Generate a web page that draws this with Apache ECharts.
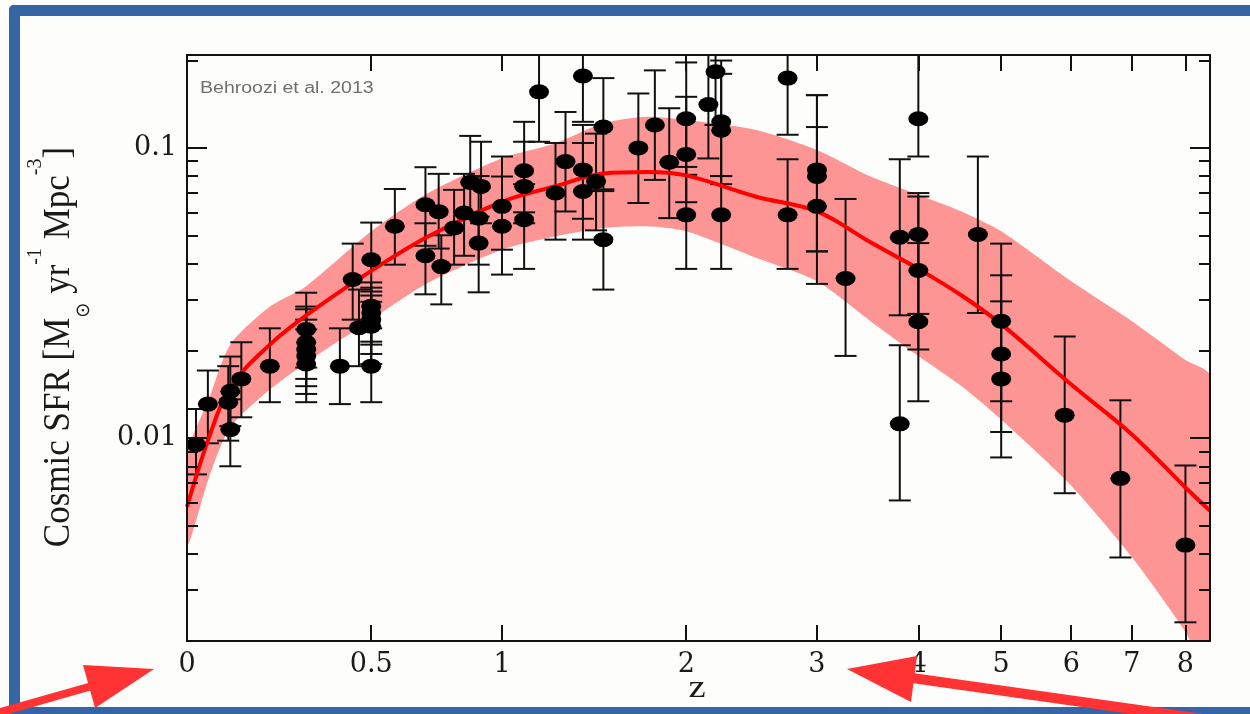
<!DOCTYPE html>
<html>
<head>
<meta charset="utf-8">
<script src="https://cdn.jsdelivr.net/npm/echarts@6/dist/echarts.min.js"></script>
<style>
  html, body { margin: 0; padding: 0; background: #ffffff; }
  #chart { width: 1250px; height: 714px; }
</style>
</head>
<body>
<div id="chart"></div>
<script>
// Cosmic star formation rate density measurements (redshift, value, upper and lower error ends)
const obsZ = [0.02, 0.047, 0.095, 0.1, 0.1, 0.127, 0.2, 0.3, 0.3, 0.3, 0.3, 0.3, 0.4, 0.44, 0.46,
  0.5, 0.5, 0.5, 0.5, 0.5, 0.5, 0.58, 0.69, 0.69, 0.74, 0.75, 0.8, 0.84, 0.865, 0.9, 0.9, 0.91,
  1.0, 1.0, 1.1, 1.1, 1.1, 1.17, 1.25, 1.3, 1.39, 1.39, 1.39, 1.46, 1.5, 1.5, 1.7, 1.8, 1.89,
  2.0, 2.0, 2.0, 2.15, 2.2, 2.24, 2.24, 2.24, 2.75, 2.75, 3.0, 3.0, 3.0, 3.26, 3.8, 3.8,
  4.0, 4.0, 4.0, 4.0, 4.7, 5.0, 5.0, 5.0, 5.9, 6.8, 8.0];
const obsSfr = [0.0095, 0.0131, 0.0133, 0.0145, 0.0107, 0.016, 0.0177, 0.0237, 0.0214, 0.0202, 0.0192, 0.018, 0.0177, 0.0352, 0.024,
  0.0412, 0.0285, 0.027, 0.0256, 0.0243, 0.0177, 0.0537, 0.0637, 0.0425, 0.0603, 0.039, 0.053, 0.0597, 0.076, 0.0573, 0.047, 0.0737,
  0.0629, 0.0537, 0.0834, 0.0737, 0.0566, 0.156, 0.0699, 0.0897, 0.177, 0.084, 0.0708, 0.0766, 0.118, 0.0483, 0.1, 0.12, 0.0893,
  0.126, 0.095, 0.0588, 0.141, 0.183, 0.123, 0.115, 0.0588, 0.174, 0.0588, 0.084, 0.0797, 0.0629, 0.0355, 0.0492, 0.0112,
  0.126, 0.0503, 0.0378, 0.0252, 0.0503, 0.0253, 0.0195, 0.016, 0.012, 0.00727, 0.00428];
const obsHi = [0.0126, 0.0171, 0.0177, 0.0191, 0.0136, 0.0214, 0.0239, 0.0317, 0.0284, 0.0278, 0.0256, 0.0237, 0.0239, 0.0468, 0.0325,
  0.0553, 0.0344, 0.033, 0.031, 0.0295, 0.0239, 0.0722, 0.0858, 0.055, 0.0814, 0.05, 0.0717, 0.0814, 0.11, 0.08, 0.058, 0.105,
  0.0934, 0.0797, 0.123, 0.105, 0.075, 0.25, 0.104, 0.133, 0.25, 0.12, 0.104, 0.112, 0.174, 0.072, 0.154, 0.185, 0.137,
  0.197, 0.15, 0.086, 0.25, 0.25, 0.2, 0.18, 0.08, 0.25, 0.0914, 0.152, 0.152, 0.118, 0.0667, 0.0914, 0.0209,
  0.25, 0.0699, 0.068, 0.047, 0.0934, 0.0468, 0.0364, 0.0296, 0.0224, 0.0135, 0.00805];
const obsLo = [0.0075, 0.0096, 0.0098, 0.011, 0.008, 0.0118, 0.0133, 0.0175, 0.016, 0.0151, 0.0142, 0.0133, 0.0131, 0.0256, 0.0177,
  0.032, 0.0215, 0.021, 0.0195, 0.018, 0.0133, 0.0396, 0.046, 0.0313, 0.045, 0.0289, 0.0396, 0.0425, 0.057, 0.0396, 0.0318, 0.055,
  0.0446, 0.0366, 0.06, 0.055, 0.0383, 0.105, 0.0483, 0.0604, 0.123, 0.057, 0.0483, 0.052, 0.071, 0.0325, 0.0646, 0.0776, 0.0573,
  0.0808, 0.065, 0.0383, 0.092, 0.12, 0.08, 0.075, 0.0383, 0.111, 0.0383, 0.044, 0.044, 0.034, 0.0192, 0.0265, 0.0061,
  0.0934, 0.0268, 0.0202, 0.0134, 0.027, 0.0134, 0.0105, 0.00858, 0.00646, 0.00388, 0.00232];

// Best-fit model curve and its uncertainty band
const modelZ = [0, 0.05, 0.1, 0.2, 0.3, 0.5, 0.7, 1.0, 1.25, 1.5, 1.75, 2.0, 2.5, 3.0, 3.5, 4.0, 4.5, 5.0, 6.0, 7.0, 8.0, 8.5];
const modelSfr = [0.0058, 0.0101, 0.015, 0.021, 0.0265, 0.0377, 0.0495, 0.0652, 0.0738, 0.0816, 0.0826, 0.0804,
  0.0679, 0.0604, 0.0473, 0.0383, 0.031, 0.0247, 0.0153, 0.0103, 0.00676, 0.00562];
const bandUpper = [0.0088, 0.0137, 0.021, 0.0284, 0.0334, 0.0516, 0.0699, 0.0922, 0.1038, 0.1216, 0.1281, 0.1248,
  0.1153, 0.0984, 0.0797, 0.069, 0.0604, 0.0516, 0.0347, 0.0253, 0.0186, 0.0164];
const bandLower = [0.00426, 0.00735, 0.0109, 0.0147, 0.0182, 0.0256, 0.0343, 0.0446, 0.0496, 0.053, 0.0537, 0.0516,
  0.0418, 0.0347, 0.0253, 0.0192, 0.0151, 0.0116, 0.00686, 0.00389, 0.00215, 0.00149];

// Axis ticks
const zTicks = [0, 0.5, 1, 2, 3, 4, 5, 6, 7, 8];
const sfrMajorTicks = [0.01, 0.1];
const sfrMinorTicks = [0.002, 0.003, 0.004, 0.005, 0.006, 0.007, 0.008, 0.009,
  0.02, 0.03, 0.04, 0.05, 0.06, 0.07, 0.08, 0.09, 0.2];

const Z_MAX = 8.5;
const SFR_MIN = 0.002;
const SFR_MAX = 0.209;

const chart = echarts.init(document.getElementById('chart'), null, { renderer: 'canvas' });

const serifTicks = "'DejaVu Serif', serif";
const serifTitle = "'Liberation Serif', 'Times New Roman', serif";
const ink = '#111111';
const frameBlue = '#3565a4';
const arrowRed = '#ff3333';

// x is plotted on a logarithmic (1 + z) axis
const xTickVals = zTicks.map(z => 1 + z);

function xAxisDef(position, withLabels) {
  return {
    type: 'log', logBase: 10, gridIndex: 0, position: position,
    min: 1, max: 1 + Z_MAX, z: 20,
    axisLine: { show: true, onZero: false, lineStyle: { color: ink, width: 2 } },
    axisTick: { show: true, inside: true, length: 16, customValues: xTickVals,
      lineStyle: { color: ink, width: 2 } },
    axisLabel: { show: withLabels, customValues: xTickVals, margin: 10,
      fontFamily: serifTicks, fontSize: 27, color: '#1a1a1a',
      formatter: v => String(Math.round((v - 1) * 10) / 10) },
    splitLine: { show: false }, minorTick: { show: false }, minorSplitLine: { show: false }
  };
}

function yAxisDef(position, ticks, tickLen, withLabels) {
  return {
    type: 'log', logBase: 10, gridIndex: 0, position: position,
    min: SFR_MIN, max: SFR_MAX, z: 20,
    axisLine: { show: true, onZero: false, lineStyle: { color: ink, width: 2 } },
    axisTick: { show: true, inside: true, length: tickLen, customValues: ticks,
      lineStyle: { color: ink, width: 2 } },
    axisLabel: { show: withLabels, customValues: ticks, margin: 10,
      fontFamily: serifTicks, fontSize: 27, color: '#1a1a1a',
      formatter: v => String(v) },
    splitLine: { show: false }, minorTick: { show: false }, minorSplitLine: { show: false }
  };
}

const bandData = modelZ.map((z, i) => [1 + z, bandUpper[i], bandLower[i]]);
const modelData = modelZ.map((z, i) => [1 + z, modelSfr[i]]);
const obsData = obsZ.map((z, i) => [1 + z, obsSfr[i], obsHi[i], obsLo[i]]);
const pointData = obsZ.map((z, i) => [1 + z, obsSfr[i]]);

// Shaded uncertainty region: one closed polygon along the upper edge and back along the lower edge
function renderBand(params, api) {
  if (params.dataIndex !== 0) return null;
  const pts = [];
  for (let i = 0; i < bandData.length; i++) pts.push(api.coord([bandData[i][0], bandData[i][1]]));
  for (let i = bandData.length - 1; i >= 0; i--) pts.push(api.coord([bandData[i][0], bandData[i][2]]));
  const cs = params.coordSys;
  return {
    type: 'polygon',
    shape: { points: pts, smooth: 0.25 },
    style: { fill: '#fe9595', stroke: null },
    clipPath: { type: 'rect', shape: { x: cs.x, y: cs.y, width: cs.width, height: cs.height } }
  };
}

// Vertical error bar with end caps, trimmed to the plotting area
function renderErrorBar(params, api) {
  const x = api.value(0);
  const top = api.coord([x, api.value(2)]);
  const bot = api.coord([x, api.value(3)]);
  const cs = params.coordSys;
  const yTop = cs.y, yBot = cs.y + cs.height;
  const half = 11;
  const st = { stroke: ink, lineWidth: 2, fill: null };
  const children = [{
    type: 'line',
    shape: { x1: top[0], y1: Math.max(top[1], yTop), x2: bot[0], y2: Math.min(bot[1], yBot) },
    style: st
  }];
  if (top[1] >= yTop) children.push({ type: 'line', shape: { x1: top[0] - half, y1: top[1], x2: top[0] + half, y2: top[1] }, style: st });
  if (bot[1] <= yBot) children.push({ type: 'line', shape: { x1: bot[0] - half, y1: bot[1], x2: bot[0] + half, y2: bot[1] }, style: st });
  return { type: 'group', children: children };
}

const option = {
  animation: false,
  backgroundColor: '#fdfdfb',
  grid: { left: 187, right: 40, top: 55, bottom: 73, containLabel: false, outerBoundsMode: 'none' },
  xAxis: [xAxisDef('bottom', true), xAxisDef('top', false)],
  yAxis: [
    yAxisDef('left', sfrMajorTicks, 20, true),
    yAxisDef('left', sfrMinorTicks, 11, false),
    yAxisDef('right', sfrMajorTicks, 20, false),
    yAxisDef('right', sfrMinorTicks, 11, false)
  ],
  series: [
    { type: 'custom', name: 'Model band', xAxisIndex: 0, yAxisIndex: 0, data: bandData,
      encode: { x: 0, y: [1, 2] }, renderItem: renderBand, clip: true, silent: true, z: 1 },
    { type: 'custom', name: 'Errors', xAxisIndex: 0, yAxisIndex: 0, data: obsData,
      encode: { x: 0, y: [1, 2, 3] }, renderItem: renderErrorBar, clip: true, silent: true, z: 3 },
    { type: 'line', name: 'Model', xAxisIndex: 0, yAxisIndex: 0, data: modelData, smooth: 0.35,
      showSymbol: false, symbol: 'none', lineStyle: { color: '#ff0000', width: 4 }, silent: true, z: 4 },
    { type: 'scatter', name: 'Data', xAxisIndex: 0, yAxisIndex: 0, data: pointData,
      symbol: 'circle', symbolSize: [20, 15], itemStyle: { color: '#000000', opacity: 1 }, silent: true, z: 5 }
  ],
  graphic: [
    // blue frame: top, left and bottom bands
    { type: 'rect', z: 50, silent: true, shape: { x: 9, y: 5, width: 1241, height: 11, r: [5, 0, 0, 0] },
      style: { fill: frameBlue } },
    { type: 'rect', z: 50, silent: true, shape: { x: 9, y: 5, width: 11, height: 709, r: [5, 0, 0, 0] },
      style: { fill: frameBlue } },
    { type: 'rect', z: 50, silent: true, shape: { x: 9, y: 707, width: 1241, height: 7 },
      style: { fill: frameBlue } },
    // reference label
    { type: 'text', z: 30, x: 200, y: 89, scaleX: 1.22, silent: true,
      style: { text: 'Behroozi et al. 2013', fontFamily: "'Liberation Sans', Arial, sans-serif",
        fontSize: 16, fill: '#6e6e6e', align: 'left', verticalAlign: 'middle',
        textAlign: 'left', textVerticalAlign: 'middle' } },
    // axis titles
    { type: 'text', z: 30, x: 59, y: 347, rotation: Math.PI / 2, scaleY: 1.08, silent: true,
      style: {
        text: 'Cosmic SFR [M{sub|\u2299} yr{sup|-1} Mpc{sup|-3}]',
        fontFamily: serifTitle, fontSize: 35, fill: '#1a1a1a', lineHeight: 64,
        align: 'center', verticalAlign: 'middle', textAlign: 'center', textVerticalAlign: 'middle',
        rich: {
          sup: { fontFamily: serifTitle, fontSize: 20, fill: '#1a1a1a', verticalAlign: 'top', lineHeight: 28 },
          sub: { fontFamily: "'DejaVu Sans', sans-serif", fontSize: 18, fill: '#1a1a1a', verticalAlign: 'bottom', lineHeight: 20 }
        }
      } },
    { type: 'text', z: 30, x: 697, y: 689, scaleX: 1.25, silent: true,
      style: { text: 'z', fontFamily: serifTitle, fontSize: 31, fill: '#1a1a1a',
        align: 'center', verticalAlign: 'middle', textAlign: 'center', textVerticalAlign: 'middle' } },
    // red pointer arrows
    { type: 'line', z: 60, silent: true,
      shape: { x1: -10, y1: 715, x2: 92, y2: 686 },
      style: { stroke: arrowRed, lineWidth: 8 } },
    { type: 'polygon', z: 60, silent: true,
      shape: { points: [[154, 669], [83, 665], [95, 708]] },
      style: { fill: arrowRed } },
    { type: 'line', z: 60, silent: true,
      shape: { x1: 905, y1: 677, x2: 1210, y2: 720 },
      style: { stroke: arrowRed, lineWidth: 10 } },
    { type: 'polygon', z: 60, silent: true,
      shape: { points: [[847, 669], [917, 656], [911, 702]] },
      style: { fill: arrowRed } }
  ]
};

chart.setOption(option);
</script>
</body>
</html>
